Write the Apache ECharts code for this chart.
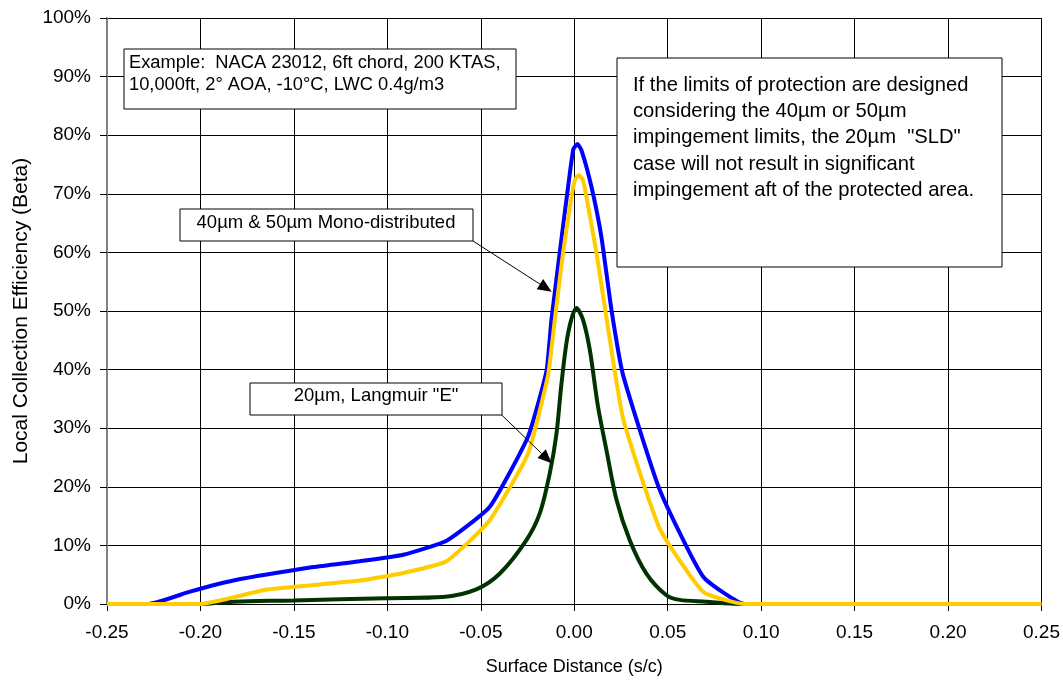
<!DOCTYPE html>
<html>
<head>
<meta charset="utf-8">
<script src="https://cdn.jsdelivr.net/npm/echarts@6/dist/echarts.min.js"></script>
<style>
html,body{margin:0;padding:0;background:#fff;}
#chart{width:1063px;height:682px;}
</style>
</head>
<body>
<div id="chart"></div>
<script>
// Surface distance (s/c) and local collection efficiency (%)
const xBlue = [-0.25, -0.2279, -0.2056, -0.1824, -0.1396, -0.1147, -0.0915, -0.0683, -0.0452, -0.0247, -0.0149, -0.0122, -0.0078, -0.0033, -0.0005, 0.0017, 0.0040, 0.0092, 0.0145, 0.0199, 0.0261, 0.0457, 0.0689, 0.0912, 0.10, 0.15, 0.20, 0.25];
const yBlue = [0, 0, 2.1, 4.0, 6.3, 7.3, 8.4, 10.8, 16.6, 28.6, 39.7, 48.5, 59.9, 71.2, 77.6, 78.5, 77.3, 71.2, 62.7, 50.2, 39.1, 19.5, 4.7, 0, 0, 0, 0, 0];

const xYellow = [-0.25, -0.2003, -0.1842, -0.1636, -0.1147, -0.0915, -0.0683, -0.0452, -0.0247, -0.0140, -0.0104, -0.0060, -0.0015, 0.0003, 0.0024, 0.0047, 0.0065, 0.0119, 0.0168, 0.0261, 0.0457, 0.0689, 0.0912, 0.10, 0.15, 0.20, 0.25];
const yYellow = [0, 0, 1.0, 2.5, 4.0, 5.3, 7.3, 14.3, 25.7, 39.1, 48.5, 59.9, 69.5, 72.3, 73.2, 72.3, 69.5, 59.9, 49.7, 31.7, 12.9, 2.1, 0, 0, 0, 0, 0];

const xGreen = [-0.25, -0.2003, -0.1824, -0.1503, -0.1005, -0.0703, -0.0524, -0.0398, -0.0256, -0.0184, -0.0131, -0.0095, -0.0068, -0.0033, 0.0012, 0.0047, 0.0083, 0.0127, 0.0172, 0.0226, 0.0297, 0.0386, 0.0493, 0.0564, 0.0706, 0.0831, 0.0912, 0.10, 0.15, 0.20, 0.25];
const yGreen = [0, 0, 0.4, 0.6, 1.0, 1.2, 2.5, 5.2, 10.9, 15.5, 22.3, 29.1, 37.7, 46.2, 50.5, 48.5, 43.4, 33.7, 26.3, 17.8, 10.9, 5.2, 1.5, 0.7, 0.4, 0.1, 0, 0, 0, 0, 0];

const seriesNames = ['50µm', '20µm', '40µm'];
const seriesColors = ['#0000FF', '#003300', '#FFCC00'];
const seriesSmooth = [0.15, 0.3, 0.15];

const xTitle = 'Surface Distance (s/c)';
const yTitle = 'Local Collection Efficiency (Beta)';
const note1 = 'Example:  NACA 23012, 6ft chord, 200 KTAS,\n10,000ft, 2° AOA, -10°C, LWC 0.4g/m3';
const note2 = 'If the limits of protection are designed\nconsidering the 40µm or 50µm\nimpingement limits, the 20µm  "SLD"\ncase will not result in significant\nimpingement aft of the protected area.';
const label40 = '40µm & 50µm Mono-distributed';
const label20 = '20µm, Langmuir "E"';

const FONT = '"Liberation Sans", Arial, sans-serif';
const pair = (xs, ys) => xs.map((x, i) => [x, ys[i]]);
const dataSets = [pair(xBlue, yBlue), pair(xGreen, yGreen), pair(xYellow, yYellow)];

const chart = echarts.init(document.getElementById('chart'), null, {renderer: 'canvas'});

function box(x, y, w, h) {
  return {type: 'rect', shape: {x: x, y: y, width: w, height: h}, style: {fill: '#fff', stroke: '#000', lineWidth: 1}, z: 100};
}
function txt(str, x, y, size, lh, align) {
  return {type: 'text', x: x, y: y, z: 101, style: {text: str, fontSize: size, fontFamily: FONT, fill: '#000', lineHeight: lh, align: align || 'left', verticalAlign: 'top'}};
}
function arrow(x1, y1, x2, y2) {
  const dx = x2 - x1, dy = y2 - y1, L = Math.sqrt(dx*dx + dy*dy);
  const ux = dx / L, uy = dy / L, px = -uy, py = ux;
  const hl = 14, hw = 6;
  const bx = x2 - ux*hl, by = y2 - uy*hl;
  return [
    {type: 'line', shape: {x1: x1, y1: y1, x2: bx, y2: by}, style: {stroke: '#000', lineWidth: 1}, z: 100},
    {type: 'polygon', shape: {points: [[x2, y2], [bx + px*hw, by + py*hw], [bx - px*hw, by - py*hw]]}, style: {fill: '#000'}, z: 100}
  ];
}

const option = {
  animation: false,
  backgroundColor: '#fff',
  textStyle: {fontFamily: FONT, color: '#000'},
  grid: {left: 107, right: 21, top: 18, bottom: 78, containLabel: false},
  xAxis: {
    type: 'value', min: -0.25, max: 0.25, interval: 0.05,
    name: xTitle, nameLocation: 'middle', nameGap: 54,
    nameTextStyle: {fontSize: 18, color: '#000', fontFamily: FONT},
    axisLine: {show: true, onZero: false, lineStyle: {color: '#000', width: 1}},
    axisTick: {show: true, length: 7, inside: false, lineStyle: {color: '#000'}},
    axisLabel: {fontSize: 19, color: '#000', margin: 19, formatter: v => (Math.abs(v) < 1e-9 ? 0 : v).toFixed(2)},
    splitLine: {show: true, lineStyle: {color: '#000', width: 1}}
  },
  yAxis: {
    type: 'value', min: 0, max: 100, interval: 10,
    name: yTitle, nameLocation: 'middle', nameGap: 75, nameRotate: 90,
    nameTextStyle: {fontSize: 21, color: '#000', fontFamily: FONT},
    axisLine: {show: true, onZero: false, lineStyle: {color: '#808080', width: 2}},
    axisTick: {show: true, length: 7, inside: false, lineStyle: {color: '#000'}},
    axisLabel: {fontSize: 19, color: '#000', margin: 16, formatter: '{value}%'},
    splitLine: {show: true, lineStyle: {color: '#000', width: 1}}
  },
  series: dataSets.map((d, i) => ({
    type: 'line', name: seriesNames[i], data: d,
    showSymbol: false, symbol: 'none', smooth: seriesSmooth[i],
    lineStyle: {color: seriesColors[i], width: 4},
    z: 2 + i
  })),
  graphic: [
    box(124, 49, 392, 60), txt(note1, 129, 52, 18.3, 22),
    box(617, 58, 385, 209), txt(note2, 633, 72, 20.2, 26.3),
    box(180, 209, 293, 32), txt(label40, 326, 213, 18.5, 20, 'center'),
    box(250, 383, 252, 32), txt(label20, 376, 386, 18.5, 20, 'center'),
    ...arrow(473, 241, 551.7, 291.7),
    ...arrow(501.7, 415, 551.7, 463.3)
  ]
};
chart.setOption(option);
</script>
</body>
</html>
